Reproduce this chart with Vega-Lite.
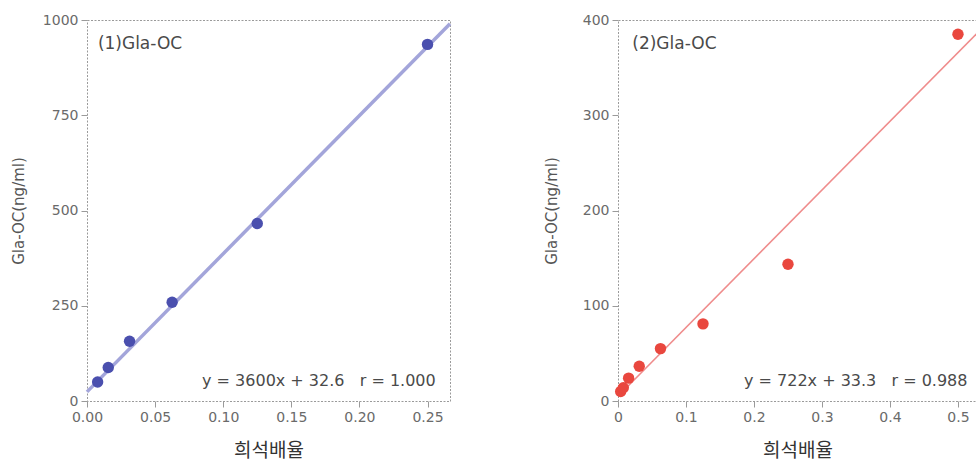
{
  "$schema": "https://vega.github.io/schema/vega-lite/v6.json",
  "background": "white",
  "padding": {"left": 10, "top": 12, "right": 0, "bottom": 0},
  "spacing": 85,
  "config": {
    "view": {"stroke": "#9a9a9a", "strokeDash": [2, 1.5], "strokeWidth": 1},
    "axis": {
      "grid": false,
      "domain": false,
      "labelFlush": false,
      "tickColor": "#9a9a9a",
      "tickSize": 6,
      "labelFont": "DejaVu Sans",
      "labelFontSize": 14,
      "labelColor": "#6a6a6a",
      "labelPadding": 3,
      "titleFont": "DejaVu Sans",
      "titleFontWeight": "normal",
      "titleColor": "#555555"
    },
    "text": {"font": "DejaVu Sans", "color": "#4a4a4a"}
  },
  "datasets": {
    "pts1": [
      {"x": 0.0078, "y": 50},
      {"x": 0.0156, "y": 88},
      {"x": 0.03125, "y": 157},
      {"x": 0.0625, "y": 259},
      {"x": 0.125, "y": 466},
      {"x": 0.25, "y": 936}
    ],
    "fit1": [
      {"x": 0, "y": 24},
      {"x": 0.2665, "y": 990}
    ],
    "ann1": [
      {"x": 0.008, "y": 938, "label": "(1)Gla-OC", "pos": "title"},
      {"x": 0.256, "y": 52, "label": "y = 3600x + 32.6\u00a0\u00a0\u00a0r = 1.000", "pos": "eq"}
    ],
    "pts2": [
      {"x": 0.0039, "y": 10},
      {"x": 0.0078, "y": 14},
      {"x": 0.0156, "y": 24},
      {"x": 0.03125, "y": 36.5},
      {"x": 0.0625, "y": 55},
      {"x": 0.125, "y": 81},
      {"x": 0.25, "y": 143.5},
      {"x": 0.5, "y": 385}
    ],
    "fit2": [
      {"x": 0, "y": 5},
      {"x": 0.528, "y": 386}
    ],
    "ann2": [
      {"x": 0.021, "y": 375, "label": "(2)Gla-OC", "pos": "title"},
      {"x": 0.514, "y": 21, "label": "y = 722x + 33.3\u00a0\u00a0\u00a0r = 0.988", "pos": "eq"}
    ]
  },
  "hconcat": [
    {
      "width": 363,
      "height": 381,
      "layer": [
        {
          "data": {"name": "fit1"},
          "mark": {"type": "line", "color": "#a3a5da", "strokeWidth": 3.5},
          "encoding": {
            "x": {"field": "x", "type": "quantitative", "scale": {"domain": [0, 0.2665], "nice": false},
                  "axis": {"values": [0, 0.05, 0.1, 0.15, 0.2, 0.25], "format": ".2f", "title": "희석배율",
                           "titleFont": "Noto Sans CJK KR", "titleFontSize": 19, "titleColor": "#333333", "titlePadding": 17}},
            "y": {"field": "y", "type": "quantitative", "scale": {"domain": [0, 1000], "nice": false},
                  "axis": {"values": [0, 250, 500, 750, 1000], "format": "d", "title": "Gla-OC(ng/ml)", "titleFontSize": 15, "titlePadding": 16}}
          }
        },
        {
          "data": {"name": "pts1"},
          "mark": {"type": "circle", "color": "#4a4fae", "opacity": 1, "size": 130},
          "encoding": {
            "x": {"field": "x", "type": "quantitative"},
            "y": {"field": "y", "type": "quantitative"}
          }
        },
        {
          "data": {"name": "ann1"},
          "transform": [{"filter": "datum.pos === 'title'"}],
          "mark": {"type": "text", "align": "left", "baseline": "middle", "fontSize": 17},
          "encoding": {
            "x": {"field": "x", "type": "quantitative"},
            "y": {"field": "y", "type": "quantitative"},
            "text": {"field": "label"}
          }
        },
        {
          "data": {"name": "ann1"},
          "transform": [{"filter": "datum.pos === 'eq'"}],
          "mark": {"type": "text", "align": "right", "baseline": "middle", "fontSize": 16},
          "encoding": {
            "x": {"field": "x", "type": "quantitative"},
            "y": {"field": "y", "type": "quantitative"},
            "text": {"field": "label"}
          }
        }
      ]
    },
    {
      "width": 359,
      "height": 381,
      "layer": [
        {
          "data": {"name": "fit2"},
          "mark": {"type": "line", "color": "#ef8c8c", "strokeWidth": 1.6},
          "encoding": {
            "x": {"field": "x", "type": "quantitative", "scale": {"domain": [0, 0.528], "nice": false},
                  "axis": {"values": [0, 0.1, 0.2, 0.3, 0.4, 0.5], "format": ".1~f", "title": "희석배율",
                           "titleFont": "Noto Sans CJK KR", "titleFontSize": 19, "titleColor": "#333333", "titlePadding": 17}},
            "y": {"field": "y", "type": "quantitative", "scale": {"domain": [0, 400], "nice": false},
                  "axis": {"values": [0, 100, 200, 300, 400], "title": "Gla-OC(ng/ml)", "titleFontSize": 15, "titlePadding": 23}}
          }
        },
        {
          "data": {"name": "pts2"},
          "mark": {"type": "circle", "color": "#e9473e", "opacity": 1, "size": 130},
          "encoding": {
            "x": {"field": "x", "type": "quantitative"},
            "y": {"field": "y", "type": "quantitative"}
          }
        },
        {
          "data": {"name": "ann2"},
          "transform": [{"filter": "datum.pos === 'title'"}],
          "mark": {"type": "text", "align": "left", "baseline": "middle", "fontSize": 17},
          "encoding": {
            "x": {"field": "x", "type": "quantitative"},
            "y": {"field": "y", "type": "quantitative"},
            "text": {"field": "label"}
          }
        },
        {
          "data": {"name": "ann2"},
          "transform": [{"filter": "datum.pos === 'eq'"}],
          "mark": {"type": "text", "align": "right", "baseline": "middle", "fontSize": 16},
          "encoding": {
            "x": {"field": "x", "type": "quantitative"},
            "y": {"field": "y", "type": "quantitative"},
            "text": {"field": "label"}
          }
        }
      ]
    }
  ]
}
